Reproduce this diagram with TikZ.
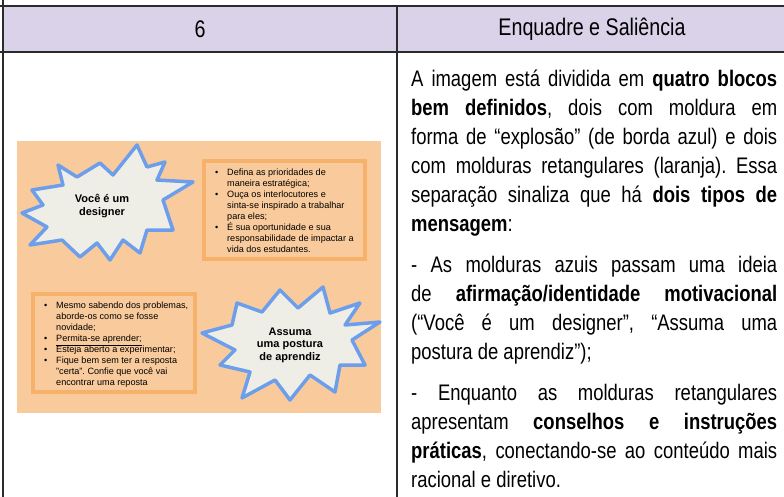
\documentclass[tikz,border=0pt]{standalone}
\usepackage{fontspec}
\setmainfont{Liberation Sans}
\newfontfamily\narrowfont{Liberation Sans}[FakeStretch=0.82]

\definecolor{headbg}{HTML}{D9D2E9}
\definecolor{slidebg}{HTML}{F9CB9C}
\definecolor{boxline}{HTML}{F6B26B}
\definecolor{burstline}{HTML}{6D9EEB}
\definecolor{burstfill}{HTML}{EEEEE6}
\definecolor{gridline}{HTML}{2B2B2B}

\setlength{\parindent}{0pt}
\frenchspacing
\newcommand{\bul}{\makebox[12pt][l]{\textbullet}}
\newcommand{\ind}{\hspace*{12pt}}

\tikzset{
  burst/.style={draw=burstline, fill=burstfill, line width=3.5pt, line join=round},
  bursttext/.style={align=center, inner sep=0pt, font=\fontsize{11}{12.5}\selectfont\bfseries},
  tipbox/.style={draw=boxline, line width=4pt, fill=slidebg},
  tiptext/.style={anchor=north west, align=left, inner sep=0pt,
    font=\fontsize{9.1}{11}\selectfont},
  headtext/.style={font=\narrowfont\fontsize{24}{28}\selectfont},
  bodytext/.style={anchor=north west, inner sep=0pt, text width=366pt,
    align=justify, font=\narrowfont\fontsize{22.5}{29}\selectfont}
}

\begin{document}
\begin{tikzpicture}[x=1pt,y=-1pt]
    \useasboundingbox (0,0) rectangle (784,497);

    % Header row
    \fill[headbg] (3,6) rectangle (784,52);
    \draw[gridline, line width=1.5pt] (0,6) -- (784,6);
    \draw[gridline, line width=1.5pt] (0,52) -- (784,52);
    \draw[gridline, line width=1.5pt] (3,0) -- (3,497);
    \draw[gridline, line width=1.5pt] (397,6) -- (397,497);
    \node[headtext] (num) at (200,29) {6};
    \node[headtext] (title) at (592,29) {Enquadre e Saliência};

    % Slide with the four blocks
    \fill[slidebg] (17,141) rectangle (381,413);
    \draw[tipbox] (204,161) rectangle (365,259);
    \draw[tipbox] (33,294) rectangle (195,392);
    \node[tiptext] (tipsA) at (215,169) {\bul Defina as prioridades de\\
        \ind maneira estratégica;\\
        \bul Ouça os interlocutores e\\
        \ind sinta-se inspirado a trabalhar\\
        \ind para eles;\\
        \bul É sua oportunidade e sua\\
        \ind responsabilidade de impactar a\\
        \ind vida dos estudantes.};
    \node[tiptext] (tipsB) at (44,302) {\bul Mesmo sabendo dos problemas,\\
        \ind aborde-os como se fosse\\
        \ind novidade;\\
        \bul \underline{Permita-se aprender;}\\
        \bul Esteja aberto a experimentar;\\
        \bul Fique bem sem ter a resposta\\
        \ind "certa". Confie que você vai\\
        \ind encontrar uma reposta};

    % Explosion frames
    \draw[burst] plot coordinates {(58,165) (77,177) (100,163) (113,175) (137,145)
        (147,167) (165,162) (157,180) (193,182) (163,200) (173,230) (147,230)
        (140,253) (123,240) (110,260) (97,243) (80,257) (62,240) (30,245)
        (47,227) (22,213) (43,205) (32,190) (63,185)} -- cycle;
    \node[bursttext] (designer) at (102,206) {Você é um\\designer};
    \draw[burst] plot coordinates {(323,287) (330,313) (360,303) (345,325) (380,322)
        (352,340) (365,365) (340,365) (335,392) (310,375) (290,400) (275,380)
        (242,398) (250,372) (220,365) (235,350) (202,333) (232,325) (237,303)
        (262,312) (280,290) (298,308)} -- cycle;
    \node[bursttext] (aprendiz) at (290,345) {Assuma\\uma postura\\de aprendiz};

    % Analysis text
    \node[bodytext] (analysis) at (411,70) {A imagem está dividida em \textbf{quatro blocos}\linebreak
        \textbf{bem definidos}, dois com moldura em\linebreak
        forma de “explosão” (de borda azul) e dois\linebreak
        com molduras retangulares (laranja). Essa\linebreak
        separação sinaliza que há \textbf{dois tipos de}\linebreak
        \textbf{mensagem}:\par\vspace{12pt}
        - As molduras azuis passam uma ideia\linebreak
        de \textbf{afirmação/identidade motivacional}\linebreak
        (“Você é um designer”, “Assuma uma\linebreak
        postura de aprendiz”);\par\vspace{12pt}
        - Enquanto as molduras retangulares\linebreak
        apresentam \textbf{conselhos e instruções}\linebreak
        \textbf{práticas}, conectando-se ao conteúdo mais\linebreak
        racional e diretivo.};
\end{tikzpicture}
\end{document}
